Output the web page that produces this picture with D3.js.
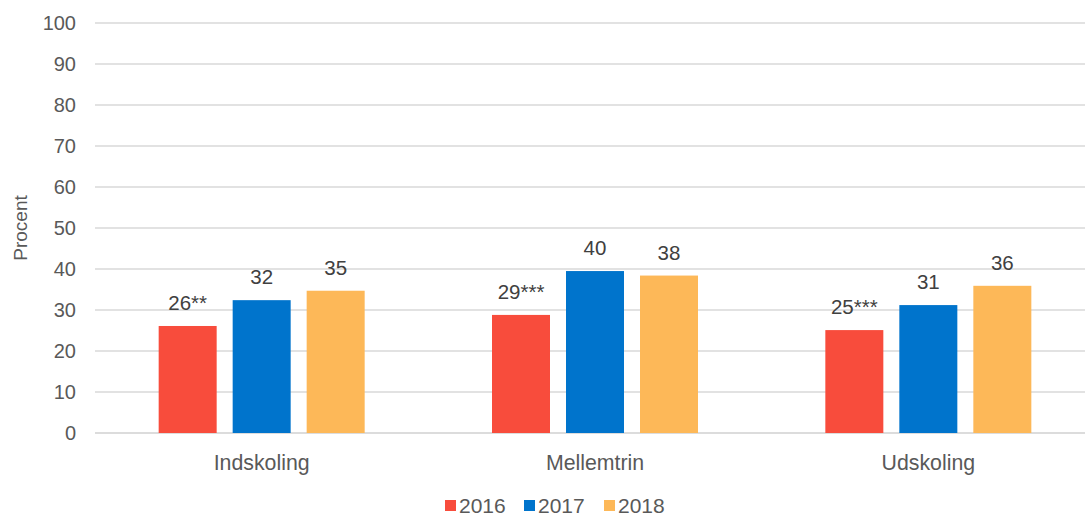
<!DOCTYPE html>
<html>
<head>
<style>
body { margin: 0; background: #fff; }
svg text { font-family: "Liberation Sans", Arial, sans-serif; }
.grid line { stroke: #d9d9d9; stroke-width: 1.5; }
.tick-label { fill: #595959; font-size: 20px; text-anchor: end; }
.cat-label { fill: #595959; font-size: 21.3px; text-anchor: middle; }
.val-label { fill: #404040; font-size: 20.5px; text-anchor: middle; }
</style>
<script src="https://cdn.jsdelivr.net/npm/d3@7"></script>
</head>
<body>
<svg width="1085" height="516"></svg>
<script>
// data
var categories = ["Indskoling", "Mellemtrin", "Udskoling"];
var years = ["2016", "2017", "2018"];
var values2016 = [26.1, 28.8, 25.1];
var values2017 = [32.4, 39.5, 31.2];
var values2018 = [34.7, 38.4, 35.9];
var labels2016 = ["26**", "29***", "25***"];
var labels2017 = ["32", "40", "31"];
var labels2018 = ["35", "38", "36"];
var yTicks = [0, 10, 20, 30, 40, 50, 60, 70, 80, 90, 100];
var colors = ["#f84c3c", "#0074cc", "#fdb858"];

var series = [values2016, values2017, values2018];
var seriesLabels = [labels2016, labels2017, labels2018];

var svg = d3.select("svg");
var plotLeft = 95, plotRight = 1095, plotTop = 23, plotBottom = 433;
var groupWidth = 206;

var y = d3.scaleLinear().domain([0, 100]).range([plotBottom, plotTop]);
var x0 = d3.scaleBand().domain(categories).range([plotLeft, plotRight]);
var x1 = d3.scaleBand().domain(years).range([0, groupWidth]).paddingInner(16 / 74).paddingOuter(0);

// gridlines
var grid = svg.append("g").attr("class", "grid");
grid.selectAll("line").data(yTicks).enter().append("line")
  .attr("x1", plotLeft).attr("x2", plotRight)
  .attr("y1", function(d) { return y(d); })
  .attr("y2", function(d) { return y(d); })
  .style("stroke", function(d) { return d === 0 ? "#d0d0d0" : null; });

svg.append("g").selectAll("text").data(yTicks).enter().append("text")
  .attr("class", "tick-label")
  .attr("x", 76)
  .attr("y", function(d) { return y(d) + 7; })
  .text(function(d) { return d; });

// y title
svg.append("text")
  .attr("transform", "translate(27,228) rotate(-90)")
  .attr("text-anchor", "middle")
  .style("font-size", "19px")
  .style("fill", "#595959")
  .text("Procent");

// bars
var groups = svg.selectAll(".cat").data(categories).enter().append("g")
  .attr("class", "cat")
  .attr("transform", function(d) {
    return "translate(" + (x0(d) + x0.bandwidth() / 2 - groupWidth / 2) + ",0)";
  });

years.forEach(function(yr, s) {
  groups.append("rect")
    .attr("x", x1(yr))
    .attr("width", x1.bandwidth())
    .attr("y", function(d, i) { return y(series[s][i]); })
    .attr("height", function(d, i) { return plotBottom - y(series[s][i]); })
    .attr("fill", colors[s]);

  groups.append("text")
    .attr("class", "val-label")
    .attr("x", x1(yr) + x1.bandwidth() / 2)
    .attr("y", function(d, i) { return y(series[s][i]) - 16; })
    .text(function(d, i) { return seriesLabels[s][i]; });
});

// category labels
svg.append("g").selectAll("text").data(categories).enter().append("text")
  .attr("class", "cat-label")
  .attr("x", function(d) { return x0(d) + x0.bandwidth() / 2; })
  .attr("y", 470)
  .text(function(d) { return d; });

// legend
var legendX = [445, 524, 604];
var legend = svg.append("g").selectAll("g").data(years).enter().append("g")
  .attr("transform", function(d, i) { return "translate(" + legendX[i] + ",500)"; });
legend.append("rect").attr("width", 11).attr("height", 11)
  .attr("fill", function(d, i) { return colors[i]; });
legend.append("text")
  .attr("x", 14).attr("y", 12.5)
  .style("font-size", "21px")
  .style("fill", "#595959")
  .text(function(d) { return d; });
</script>
</body>
</html>
